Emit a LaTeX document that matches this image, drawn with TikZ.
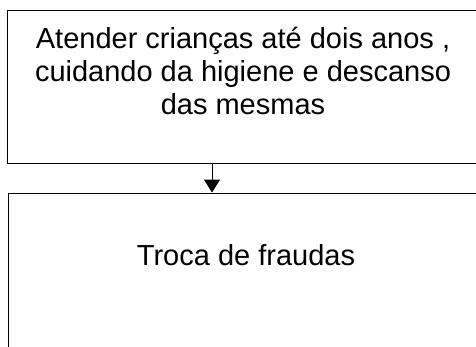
\documentclass[tikz,border=0pt]{standalone}
\usepackage{fontspec}
\setmainfont{Liberation Sans}
\usetikzlibrary{arrows.meta}
\begin{document}
\begin{tikzpicture}[x=1pt,y=-1pt,
  stepbox/.style={draw,line width=1pt,inner sep=0pt},
  boxtext/.style={font=\fontsize{29}{33}\selectfont,align=center,inner sep=0pt},
  flow/.style={line width=1pt,-{Triangle[width=16pt,length=13pt]}}]
  \clip (0,0) rectangle (476,346);
  \def\ax{212}
  % first task and its text
  \node[stepbox,minimum width=476pt,minimum height=153pt] (care) at (245,86.5) {};
  \node[boxtext] (caretext) at (243,71) {Atender crianças até dois anos ,\\ cuidando da higiene e descanso\\ das mesmas};
  % second task, running off the page
  \node[stepbox,minimum width=476pt,minimum height=170pt] (diaper) at (246,278) {};
  \node[boxtext,anchor=base] (diapertext) at (246,265) {Troca de fraudas};
  % connector between the two tasks
  \coordinate (drop) at (\ax,0);
  \draw[flow] (care.south -| drop) -- (diaper.north -| drop);
\end{tikzpicture}
\end{document}
